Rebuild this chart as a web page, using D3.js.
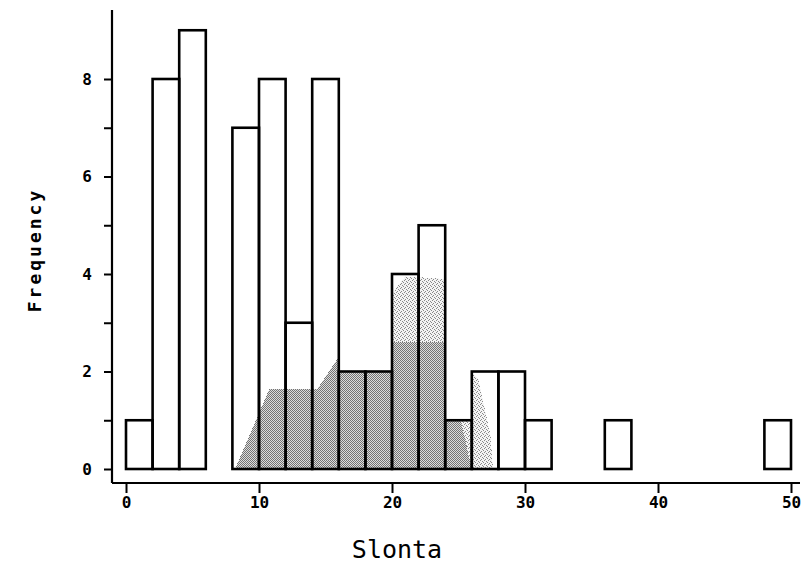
<!DOCTYPE html>
<html>
<head>
<meta charset="utf-8">
<script src="https://cdn.jsdelivr.net/npm/d3@7"></script>
<style>
  html, body { margin: 0; padding: 0; background: #fff; }
  svg { display: block; }
</style>
</head>
<body>
<script>
// Histogram of Slonta values, bin width 2
const binStarts = [0, 2, 4, 6, 8, 10, 12, 14, 16, 18, 20, 22, 24, 26, 28, 30, 32, 34, 36, 38, 40, 42, 44, 46, 48];
const counts    = [1, 8, 9, 0, 7, 8, 3, 8, 2, 2, 4, 5, 1, 2, 2, 1, 0, 0, 1, 0, 0, 0, 0, 0, 1];
const binWidth = 2;
const xTicks = [0, 10, 20, 30, 40, 50];
const yMajorTicks = [0, 2, 4, 6, 8];
const yMinorTicks = [1, 3, 5, 7];

// Shaded overlay outlines (dense core and lighter halo), in data units
const shadeDense = [[8.2, 0], [10.8, 1.65], [14.4, 1.65], [16, 2.3], [20, 2.6], [24, 2.6], [25, 1.2], [26, 0]];
const shadeLight = [[8.2, 0], [10.8, 1.65], [14.4, 1.65], [16, 2.3], [18, 2.8], [20, 3.6], [21, 3.95], [24, 3.9], [25.6, 2.1], [26.5, 1.85], [27.4, 0.7], [27.6, 0]];

const W = 810, H = 567;
const svg = d3.select("body").append("svg").attr("width", W).attr("height", H);

const x = d3.scaleLinear().domain([0, 50]).range([126, 791]);
const y = d3.scaleLinear().domain([0, 8]).range([469, 79]);

// Dither patterns for the shading
const defs = svg.append("defs");
const dense = defs.append("pattern").attr("id", "dense").attr("patternUnits", "userSpaceOnUse")
  .attr("width", 4).attr("height", 4);
dense.append("rect").attr("width", 4).attr("height", 4).attr("fill", "#dcdcdc");
[[0,0],[2,0],[1,1],[3,1],[0,2],[2,2],[1,3],[3,3]].forEach(([a,b]) =>
  dense.append("rect").attr("x", a).attr("y", b).attr("width", 1).attr("height", 1).attr("fill", "#737373"));
const light = defs.append("pattern").attr("id", "light").attr("patternUnits", "userSpaceOnUse")
  .attr("width", 4).attr("height", 4);
light.append("rect").attr("width", 4).attr("height", 4).attr("fill", "#f4f4f4");
[[0,0],[2,1],[1,3],[3,2]].forEach(([a,b]) =>
  light.append("rect").attr("x", a).attr("y", b).attr("width", 1).attr("height", 1).attr("fill", "#8a8a8a"));

const bins = binStarts.map((s, i) => ({ x0: s, x1: s + binWidth, n: counts[i] })).filter(d => d.n > 0);

// Clip shading to the histogram bars
const clip = defs.append("clipPath").attr("id", "barsClip");
clip.selectAll("rect").data(bins).join("rect")
  .attr("x", d => x(d.x0)).attr("y", d => y(d.n))
  .attr("width", d => x(d.x1) - x(d.x0)).attr("height", d => y(0) - y(d.n));

const area = d3.line().x(d => x(d[0])).y(d => y(d[1]));
const shadeG = svg.append("g").attr("clip-path", "url(#barsClip)");
shadeG.append("path").attr("d", area(shadeLight) + "Z").attr("fill", "url(#light)").attr("shape-rendering", "crispEdges");
shadeG.append("path").attr("d", area(shadeDense) + "Z").attr("fill", "url(#dense)").attr("shape-rendering", "crispEdges");

// Bar outlines
svg.append("g").selectAll("rect").data(bins).join("rect")
  .attr("x", d => x(d.x0)).attr("y", d => y(d.n))
  .attr("width", d => x(d.x1) - x(d.x0)).attr("height", d => y(0) - y(d.n))
  .attr("fill", "none").attr("stroke", "#000").attr("stroke-width", 2.6);

// Axes
const tickFont = "'DejaVu Sans Mono', monospace";
const xAxis = d3.axisBottom(x).tickValues(xTicks).tickSize(10).tickPadding(4).tickSizeOuter(0);
const gx = svg.append("g").attr("transform", "translate(0,483)").call(xAxis);
gx.select(".domain").attr("d", `M112,0H800`).attr("stroke-width", 2.2);
gx.selectAll(".tick line").attr("stroke-width", 2);
gx.selectAll(".tick text").attr("font-family", tickFont).attr("font-weight", "bold").attr("font-size", 16).attr("fill", "#000");

const yAxis = d3.axisLeft(y).tickValues(yMajorTicks.concat(yMinorTicks)).tickSize(8).tickPadding(12)
  .tickFormat(d => yMajorTicks.includes(d) ? d : "").tickSizeOuter(0);
const gy = svg.append("g").attr("transform", "translate(112,0)").call(yAxis);
gy.select(".domain").attr("d", `M0,483V10`).attr("stroke-width", 2.2);
gy.selectAll(".tick line").attr("stroke-width", 2);
gy.selectAll(".tick text").attr("font-family", tickFont).attr("font-weight", "bold").attr("font-size", 16).attr("fill", "#000");

// Axis titles
svg.append("text").attr("x", 397).attr("y", 558).attr("text-anchor", "middle")
  .attr("font-family", tickFont).attr("font-size", 25).text("Slonta");
svg.append("text").attr("transform", "translate(41,250) rotate(-90)").attr("text-anchor", "middle")
  .attr("font-family", tickFont).attr("font-weight", "bold").attr("font-size", 18)
  .attr("letter-spacing", 3).text("Frequency");
</script>
</body>
</html>
